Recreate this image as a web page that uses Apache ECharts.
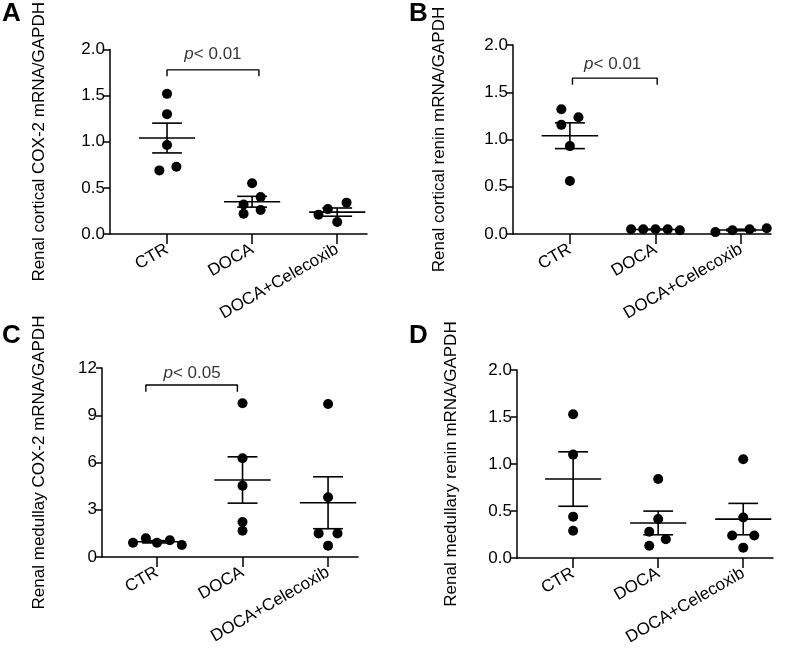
<!DOCTYPE html>
<html><head><meta charset="utf-8">
<script src="https://cdn.jsdelivr.net/npm/echarts@6/dist/echarts.min.js"></script>
<style>html,body{margin:0;padding:0;background:#fff}#c{width:800px;height:653px}</style>
</head><body><div id="c"></div>
<script>
const categories = ['CTR', 'DOCA', 'DOCA+Celecoxib'];

// Panel A: renal cortical COX-2
const A_CTR = [1.52, 1.30, 0.965, 0.69, 0.73];
const A_DOCA = [0.55, 0.40, 0.32, 0.26, 0.22];
const A_CEL = [0.21, 0.27, 0.34, 0.13];
const A_CTR_JIT = [0, 0, 0, -0.09, 0.11];
const A_DOCA_JIT = [0, 0.1, -0.1, 0.1, -0.1];
const A_CEL_JIT = [-0.22, -0.11, 0.11, 0];

// Panel B: renal cortical renin
const B_CTR = [1.32, 1.235, 1.155, 0.93, 0.56];
const B_DOCA = [0.05, 0.05, 0.05, 0.05, 0.04];
const B_CEL = [0.02, 0.04, 0.05, 0.06];
const B_CTR_JIT = [-0.1, 0.1, -0.1, 0, 0];
const B_DOCA_JIT = [-0.285, -0.143, 0, 0.143, 0.285];
const B_CEL_JIT = [-0.3, -0.1, 0.1, 0.3];

// Panel C: renal medullary COX-2
const C_CTR = [0.91, 1.19, 0.91, 1.06, 0.76];
const C_DOCA = [9.76, 6.27, 4.53, 2.22, 1.67];
const C_CEL = [9.71, 3.79, 1.5, 1.5, 0.72];
const C_CTR_JIT = [-0.28, -0.13, 0, 0.15, 0.29];
const C_DOCA_JIT = [0, 0, 0, 0, 0];
const C_CEL_JIT = [0, 0, -0.11, 0.11, 0];

// Panel D: renal medullary renin
const D_CTR = [1.53, 1.10, 0.44, 0.29];
const D_DOCA = [0.84, 0.415, 0.28, 0.20, 0.13];
const D_CEL = [1.05, 0.43, 0.24, 0.24, 0.11];
const D_CTR_JIT = [0, 0, 0, 0];
const D_DOCA_JIT = [0, 0, -0.105, 0.09, -0.105];
const D_CEL_JIT = [0, 0, -0.13, 0.13, 0];

// Significance brackets [x, y] in data units, and labels
const A_BRACKET = [[0, 1.71], [0, 1.78], [1.08, 1.78], [1.08, 1.71]];
const B_BRACKET = [[0.03, 1.58], [0.03, 1.65], [1.02, 1.65], [1.02, 1.58]];
const C_BRACKET = [[-0.13, 10.5], [-0.13, 10.92], [0.94, 10.92], [0.94, 10.5]];
const A_PTEXT = [0.54, 1.95, '0.01'];
const B_PTEXT = [0.50, 1.80, '0.01'];
const C_PTEXT = [0.41, 11.65, '0.05'];

const yTitles = [
  'Renal cortical COX-2 mRNA/GAPDH',
  'Renal cortical renin mRNA/GAPDH',
  'Renal medullay COX-2 mRNA/GAPDH',
  'Renal medullary renin mRNA/GAPDH'
];
const yMaxes = [2, 2, 12, 2];
const yIntervals = [0.5, 0.5, 3, 0.5];
const yDecimals = [1, 1, 0, 1];

const FONT = 'Liberation Sans, Arial, sans-serif';
const FS = 17;
const panels = [
  {groups: [A_CTR, A_DOCA, A_CEL], jit: [A_CTR_JIT, A_DOCA_JIT, A_CEL_JIT], bracket: A_BRACKET, ptext: A_PTEXT,
   grid: {left: 110, top: 44, width: 257, height: 190}, xmin: -0.67, xmax: 2.35, nameGap: 62, letter: 'A', lx: 2, ly: 1},
  {groups: [B_CTR, B_DOCA, B_CEL], jit: [B_CTR_JIT, B_DOCA_JIT, B_CEL_JIT], bracket: B_BRACKET, ptext: B_PTEXT,
   grid: {left: 513, top: 45, width: 258, height: 189}, xmin: -0.665, xmax: 2.35, nameGap: 65, letter: 'B', lx: 409, ly: 1},
  {groups: [C_CTR, C_DOCA, C_CEL], jit: [C_CTR_JIT, C_DOCA_JIT, C_CEL_JIT], bracket: C_BRACKET, ptext: C_PTEXT,
   grid: {left: 102, top: 368, width: 256, height: 189}, xmin: -0.643, xmax: 2.35, nameGap: 54, letter: 'C', lx: 2, ly: 323},
  {groups: [D_CTR, D_DOCA, D_CEL], jit: [D_CTR_JIT, D_DOCA_JIT, D_CEL_JIT], bracket: null, ptext: null,
   grid: {left: 517, top: 370, width: 256, height: 188}, xmin: -0.66, xmax: 2.35, nameGap: 57, letter: 'D', lx: 409, ly: 323}
];

function mean(a) { return a.reduce((s, v) => s + v, 0) / a.length; }
function sem(a) {
  const m = mean(a);
  const v = a.reduce((s, x) => s + (x - m) * (x - m), 0) / (a.length - 1);
  return Math.sqrt(v / a.length);
}

const grids = [], xAxes = [], yAxes = [], series = [], graphics = [];
panels.forEach((p, i) => {
  grids.push(Object.assign({containLabel: false}, p.grid));
  xAxes.push({
    type: 'value', gridIndex: i, min: p.xmin, max: p.xmax,
    splitLine: {show: false},
    axisLine: {onZero: false, lineStyle: {color: '#000', width: 1.5}},
    axisTick: {show: true, customValues: [0, 1, 2], length: 10, lineStyle: {color: '#000', width: 1.5}},
    axisLabel: {customValues: [0, 1, 2], formatter: v => categories[Math.round(v)], rotate: 30,
      fontSize: FS, color: '#000', fontFamily: FONT, margin: 14}
  });
  yAxes.push({
    type: 'value', gridIndex: i, min: 0, max: yMaxes[i], interval: yIntervals[i],
    splitLine: {show: false},
    axisLine: {show: true, onZero: false, lineStyle: {color: '#000', width: 1.5}},
    axisTick: {show: true, length: 6, lineStyle: {color: '#000', width: 1.5}},
    axisLabel: {formatter: v => v.toFixed(yDecimals[i]), fontSize: FS, color: '#000', fontFamily: FONT, margin: 5},
    name: yTitles[i], nameLocation: 'middle', nameGap: p.nameGap,
    nameTextStyle: {fontSize: FS, color: '#000', fontFamily: FONT}
  });
  const pts = [];
  p.groups.forEach((vals, g) => vals.forEach((v, k) => pts.push([g + p.jit[g][k], v])));
  series.push({
    type: 'scatter', xAxisIndex: i, yAxisIndex: i, data: pts, symbolSize: 10,
    itemStyle: {color: '#000', opacity: 1}, silent: true, z: 2
  });
  series.push({
    type: 'custom', xAxisIndex: i, yAxisIndex: i, z: 3, silent: true,
    data: p.groups.map((vals, g) => [g, mean(vals), sem(vals)]),
    renderItem: (params, api) => {
      const g = api.value(0), m = api.value(1), s = api.value(2);
      const style = {stroke: '#000', lineWidth: 1.6};
      const seg = (x1, y1, x2, y2) => {
        const a = api.coord([x1, y1]), b = api.coord([x2, y2]);
        return {type: 'line', shape: {x1: a[0], y1: a[1], x2: b[0], y2: b[1]}, style};
      };
      return {type: 'group', children: [
        seg(g - 0.33, m, g + 0.33, m),
        seg(g, m - s, g, m + s),
        seg(g - 0.175, m + s, g + 0.175, m + s),
        seg(g - 0.175, m - s, g + 0.175, m - s)
      ]};
    }
  });
  if (p.bracket) {
    series.push({
      type: 'line', xAxisIndex: i, yAxisIndex: i, data: p.bracket, symbol: 'none', silent: true,
      lineStyle: {color: '#000', width: 1.4}, z: 3
    });
    series.push({
      type: 'scatter', xAxisIndex: i, yAxisIndex: i, data: [[p.ptext[0], p.ptext[1]]], symbolSize: 0, silent: true,
      label: {show: true, position: 'inside', formatter: '{i|p}< ' + p.ptext[2],
        fontSize: FS, color: '#000', fontFamily: FONT,
        rich: {i: {fontStyle: 'italic', fontSize: FS, color: '#000', fontFamily: FONT}}}
    });
  }
  graphics.push({type: 'text', left: p.lx, top: p.ly,
    style: {text: p.letter, fontSize: 26, fontWeight: 'bold', fill: '#000', fontFamily: FONT}});
});

const chart = echarts.init(document.getElementById('c'), null, {renderer: 'canvas'});
chart.setOption({
  animation: false,
  backgroundColor: '#fff',
  grid: grids, xAxis: xAxes, yAxis: yAxes, series: series, graphic: graphics
});
</script></body></html>
